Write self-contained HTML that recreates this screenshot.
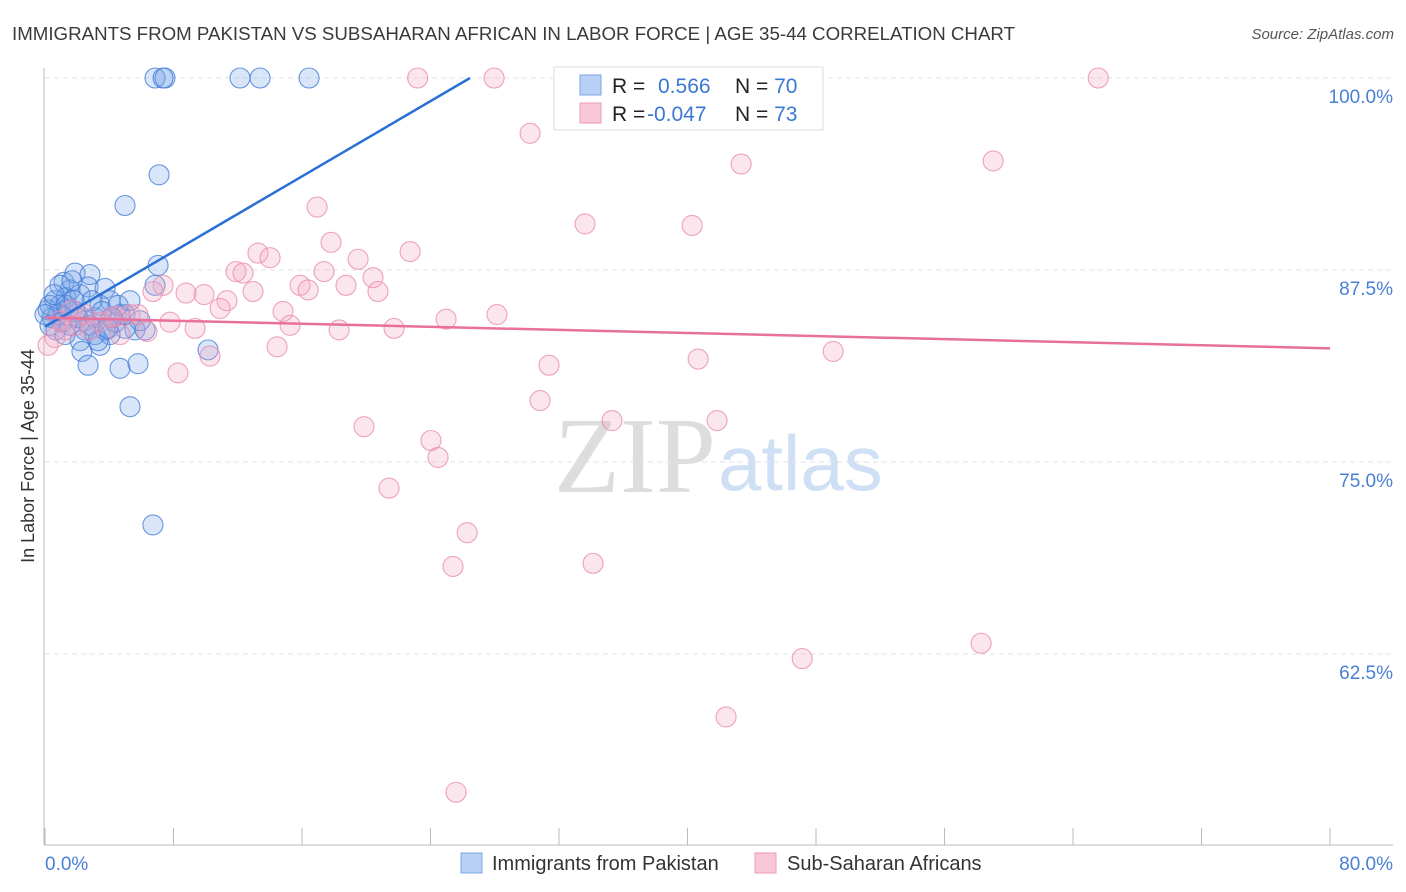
<!DOCTYPE html>
<html><head><meta charset="utf-8"><style>
body{margin:0;background:#fff;font-family:"Liberation Sans",sans-serif;}
svg{display:block}
</style></head><body>
<svg id="chart" width="1406" height="892" xmlns="http://www.w3.org/2000/svg">
<text x="12" y="40" font-size="18" fill="#3a3a3a" textLength="1003" lengthAdjust="spacingAndGlyphs">IMMIGRANTS FROM PAKISTAN VS SUBSAHARAN AFRICAN IN LABOR FORCE | AGE 35-44 CORRELATION CHART</text>
<text x="1394" y="39" font-size="15" fill="#555" font-style="italic" text-anchor="end">Source: ZipAtlas.com</text>
<text x="716" y="492" font-size="108" text-anchor="end" fill="#ddd" font-family="Liberation Serif,serif">ZIP</text>
<text x="718" y="490" font-size="78" fill="#cfe0f4">atlas</text>
<g id="grid"></g>
<g id="axes"></g>
<g id="pts"></g>
<g id="trends"></g>
<text transform="translate(34,456) rotate(-90)" font-size="18" fill="#333" text-anchor="middle">In Labor Force | Age 35-44</text>
<text x="45" y="870" font-size="19" fill="#4a7fd4">0.0%</text>
<text x="1393" y="870" font-size="19" fill="#4a7fd4" text-anchor="end">80.0%</text>
<g>
<rect x="554" y="67" width="269" height="63" fill="#fff" stroke="#ddd"/>
<rect x="580" y="75" width="21" height="20" fill="#b8d0f4" stroke="#7aa6e6"/>
<rect x="580" y="103" width="21" height="20" fill="#f9c8d8" stroke="#eb9ab6"/>
<text x="612" y="93" font-size="21" fill="#222">R = <tspan fill="#3a78d4" x="658">0.566</tspan><tspan x="735" fill="#222">N = </tspan><tspan fill="#3a78d4">70</tspan></text>
<text x="612" y="121" font-size="21" fill="#222">R = <tspan fill="#3a78d4" x="647">-0.047</tspan><tspan x="735" fill="#222">N = </tspan><tspan fill="#3a78d4">73</tspan></text>
</g>
<g>
<rect x="461" y="853" width="21" height="20" fill="#b8d0f4" stroke="#7aa6e6"/>
<text x="492" y="870" font-size="20" fill="#333">Immigrants from Pakistan</text>
<rect x="755" y="853" width="21" height="20" fill="#f9c8d8" stroke="#eb9ab6"/>
<text x="787" y="870" font-size="20" fill="#333">Sub-Saharan Africans</text>
</g>
</svg>
<script>
const yTicks=[100,87.5,75,62.5];
const yTickLabels=["100.0%","87.5%","75.0%","62.5%"];
const xTicks=[0,8,16,24,32,40,48,56,64,72,80];
const blueX=[6.85,7.47,7.35,12.14,13.39,16.44,7.1,4.98,7.04,1.18,1.87,2.8,1.56,2.68,3.74,0.62,0.93,0.19,0.44,1.31,2.18,3.42,4.05,2.49,3.11,4.67,5.6,6.23,4.98,2.18,3.42,3.11,4.05,2.3,2.68,4.67,5.79,10.15,5.29,6.72,6.85,0.31,0.81,1.06,1.56,1.87,2.8,3.74,4.36,4.98,5.92,0.93,1.68,1.43,2.05,2.93,3.55,4.17,4.55,5.29,0.31,0.68,1.25,2.49,3.3,3.92,0,0.56,1.31,1.81];
const blueY=[100,100,100,100,100,100,93.7,91.7,87.8,86.7,87.3,87.2,86.2,86.4,86.3,85.5,85.2,84.9,84.4,85.7,85.9,85.2,85.5,84.2,84.4,84.6,83.6,83.6,83.7,82.9,82.6,83.3,83.3,82.2,81.3,81.1,81.4,82.3,78.6,70.9,86.5,83.9,84.6,84.1,83.9,84.8,83.9,83.6,84.1,84.6,84.2,86.5,86.8,84.9,84.4,85.5,84.8,84.4,85.2,85.5,85.2,83.6,83.3,83.6,82.9,83.7,84.6,85.9,85.2,85.5];
const pinkX=[23.2,27.96,33.0,65.57,30.2,43.34,59.03,16.94,33.62,40.29,17.81,22.73,13.26,14.01,19.49,11.89,12.33,17.37,20.42,15.88,16.38,18.74,20.73,7.35,6.72,8.78,9.9,11.33,10.9,12.95,14.82,7.78,9.34,15.26,18.31,21.73,24.97,28.14,6.35,5.29,5.79,4.42,3.42,1.87,1.25,0.62,0.19,0.93,2.49,2.8,14.45,10.27,8.28,31.38,40.66,49.07,30.82,19.86,35.3,41.84,24.03,24.47,21.42,26.28,25.4,34.12,47.14,58.28,42.4,25.59,4.05,4.67,1.68];
const pinkY=[100,100,100,100,96.4,94.4,94.6,91.6,90.5,90.4,89.3,88.7,88.6,88.3,88.2,87.4,87.3,87.4,87.0,86.5,86.2,86.5,86.1,86.5,86.1,86.0,85.9,85.5,85.0,86.1,84.8,84.1,83.7,83.9,83.6,83.7,84.3,84.6,83.5,84.6,84.6,84.5,84.1,83.9,83.6,83.1,82.6,84.2,84.6,83.6,82.5,81.9,80.8,81.3,81.7,82.2,79.0,77.3,77.7,77.7,76.4,75.3,73.3,70.4,68.2,68.4,62.2,63.2,58.4,53.5,84.4,83.3,84.9];
const blueTrend=[0,83.8,26.46,100];
const pinkTrend=[0,84.4,80,82.4];
const NS="http://www.w3.org/2000/svg";
const sx=v=>45+v*1285/80;
const sy=v=>78+(100-v)*15.36;
function mk(t,a,p){const e=document.createElementNS(NS,t);for(const k in a)e.setAttribute(k,a[k]);p.appendChild(e);return e;}
const grid=document.getElementById('grid'),axes=document.getElementById('axes'),pts=document.getElementById('pts'),tr=document.getElementById('trends');
yTicks.forEach((t,i)=>{
 const l=mk('line',{x1:45,x2:1393,y1:sy(t),y2:sy(t),stroke:'#e2e2e2','stroke-dasharray':'5,4'},grid);
 
 
 const tx=mk('text',{x:1393,y:sy(t)+25,'font-size':19,fill:'#4a7fd4','text-anchor':'end'},grid);
 tx.textContent=yTickLabels[i];
 
 
});
const ya=mk('line',{x1:44,x2:44,y1:68,y2:845,stroke:'#bbb'},axes);


const xa=mk('line',{x1:44,x2:1393,y1:845,y2:845,stroke:'#bbb'},axes);


xTicks.forEach(t=>{
 const l=mk('line',{x1:sx(t),x2:sx(t),y1:828,y2:845,stroke:'#bbb'},axes);
 
 
});
blueX.forEach((x,i)=>{
 const c=mk('circle',{cx:sx(x),cy:sy(blueY[i]),r:10,fill:'rgba(120,165,235,0.28)',stroke:'rgba(70,125,215,0.8)','stroke-width':1.1},pts);
 
 
});
pinkX.forEach((x,i)=>{
 const c=mk('circle',{cx:sx(x),cy:sy(pinkY[i]),r:10,fill:'rgba(245,165,195,0.28)',stroke:'rgba(232,140,175,0.8)','stroke-width':1.1},pts);
 
 
});
const bl=mk('line',{x1:sx(blueTrend[0]),y1:sy(blueTrend[1]),x2:sx(blueTrend[2]),y2:sy(blueTrend[3]),stroke:'#2a70d6','stroke-width':2.5},tr);


const pl=mk('line',{x1:sx(pinkTrend[0]),y1:sy(pinkTrend[1]),x2:sx(pinkTrend[2]),y2:sy(pinkTrend[3]),stroke:'#e8709a','stroke-width':2.5},tr);


</script>
</body></html>
